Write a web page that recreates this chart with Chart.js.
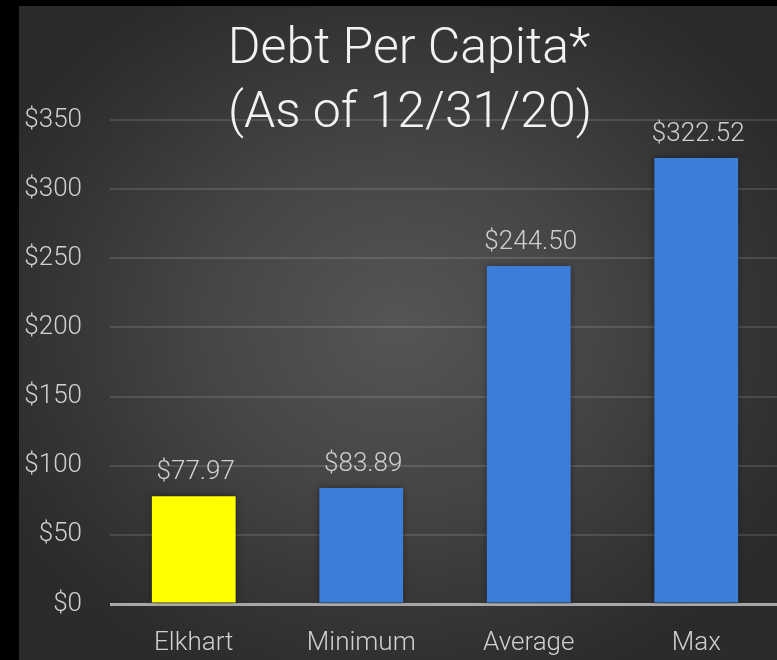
<!DOCTYPE html>
<html>
<head>
<meta charset="utf-8">
<script src="https://cdn.jsdelivr.net/npm/chart.js@4"></script>
<style>
  html, body { margin: 0; padding: 0; background: #000; overflow: hidden; width: 777px; height: 660px; }
  #frame { position: absolute; left: 19px; top: 6px; width: 758px; height: 654px;
    background: radial-gradient(ellipse 440px 380px at 380px 320px, #555555 0%, #454545 45%, #343434 80%, #2b2b2b 100%); overflow: hidden; }
  #wrap { position: absolute; left: 0; top: 0; width: 762px; height: 654px; }
</style>
</head>
<body>
<div id="frame"><div id="wrap"><canvas id="c" width="762" height="654"></canvas></div></div>
<script>
const categories = ["Elkhart", "Minimum", "Average", "Max"];
const debtPerCapita = [77.97, 83.89, 244.50, 322.52];
const barColors = ["#ffff00", "#3c7dd9", "#3c7dd9", "#3c7dd9"];
const titleLines = ["Debt Per Capita*", "(As of 12/31/20)"];
const yTicks = [0, 50, 100, 150, 200, 250, 300, 350];

const FONT = "Roboto, 'Open Sans', sans-serif";

const shadowPlugin = {
  id: 'barShadow',
  beforeDatasetsDraw(chart) {
    const ctx = chart.ctx;
    ctx.save();
    ctx.shadowColor = 'rgba(0,0,0,0.45)';
    ctx.shadowBlur = 7;
    ctx.shadowOffsetX = 0;
    ctx.shadowOffsetY = 0;
  },
  afterDatasetsDraw(chart) {
    chart.ctx.restore();
  }
};

const valueLabelPlugin = {
  id: 'valueLabels',
  afterDatasetsDraw(chart) {
    const ctx = chart.ctx;
    const meta = chart.getDatasetMeta(0);
    ctx.save();
    ctx.font = "300 26px " + FONT;
    ctx.fillStyle = "#cfcfcf";
    ctx.textAlign = "center";
    ctx.textBaseline = "alphabetic";
    meta.data.forEach((bar, i) => {
      const v = chart.data.datasets[0].data[i];
      ctx.fillText("$" + v.toFixed(2), bar.x + 2, bar.y - 17);
    });
    ctx.restore();
  }
};

const titlePlugin = {
  id: 'customTitle',
  afterDraw(chart) {
    const ctx = chart.ctx;
    ctx.save();
    ctx.font = "300 50px " + FONT;
    ctx.fillStyle = "#f2f2f2";
    ctx.textAlign = "center";
    ctx.textBaseline = "alphabetic";
    ctx.fillText(titleLines[0], 390, 57);
    ctx.fillText(titleLines[1], 391, 121);
    ctx.restore();
  }
};

new Chart(document.getElementById('c'), {
  type: 'bar',
  data: {
    labels: categories,
    datasets: [{
      data: debtPerCapita,
      backgroundColor: barColors,
      borderWidth: 0,
      categoryPercentage: 1.0,
      barPercentage: 0.5
    }]
  },
  plugins: [shadowPlugin, valueLabelPlugin, titlePlugin],
  options: {
    responsive: false,
    animation: false,
    events: [],
    layout: { padding: { top: 114, right: 1, left: 0, bottom: 0 } },
    plugins: { legend: { display: false }, tooltip: { enabled: false }, title: { display: false } },
    scales: {
      x: {
        grid: { display: false, drawTicks: false },
        border: { display: false },
        ticks: { color: "#d0d0d0", font: { family: FONT, size: 26, weight: 300 }, padding: 24, maxRotation: 0 },
        afterFit(scale) { scale.height = 56; }
      },
      y: {
        min: 0,
        max: 350,
        afterBuildTicks(scale) { scale.ticks = yTicks.map(v => ({ value: v })); },
        grid: {
          drawTicks: false,
          color: (c) => c.tick && c.tick.value === 0 ? "#a8a8a8" : "rgba(255,255,255,0.12)",
          lineWidth: (c) => c.tick && c.tick.value === 0 ? 3 : 2
        },
        border: { display: false },
        ticks: {
          color: "#d0d0d0",
          font: { family: FONT, size: 26, weight: 300 },
          padding: 28,
          callback: (v) => "$" + v
        },
        afterFit(scale) { scale.width = 91; }
      }
    }
  }
});
</script>
</body>
</html>
